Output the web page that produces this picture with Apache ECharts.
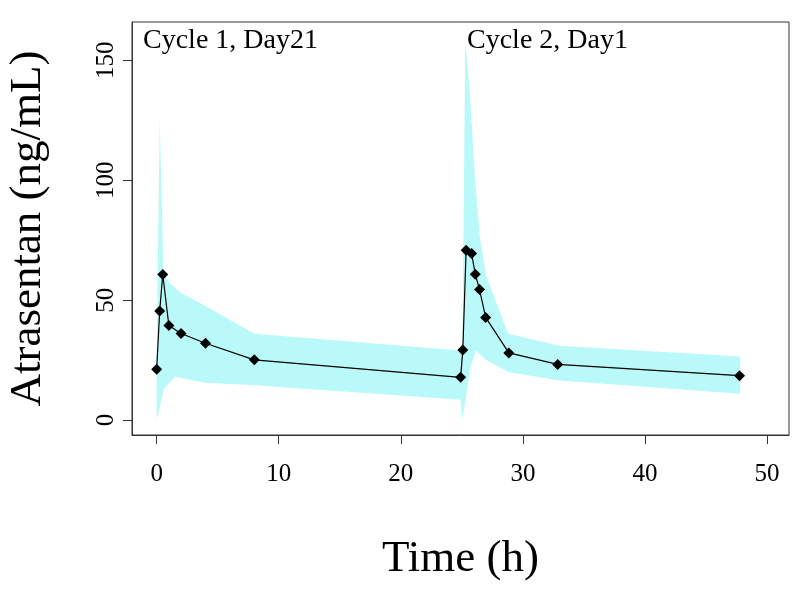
<!DOCTYPE html>
<html>
<head>
<meta charset="utf-8">
<script src="https://cdn.jsdelivr.net/npm/echarts@6/dist/echarts.min.js"></script>
<style>
html,body{margin:0;padding:0;background:#fff;}
#chart{width:800px;height:595px;}
</style>
</head>
<body>
<div id="chart"></div>
<script>
// Mean concentration profile
const timeH = [0, 0.25, 0.5, 1, 2, 4, 8, 24.9, 25.08, 25.35, 25.8, 26.1, 26.45, 26.95, 28.85, 32.85, 47.75];
const concMean = [21.2, 45.5, 60.7, 39.4, 36.1, 32.0, 25.1, 17.8, 29.2, 70.8, 69.4, 60.8, 54.4, 42.8, 28.0, 23.2, 18.5];

// Shaded band: upper bound
const upperT = [0, 0.25, 0.55, 1, 2, 4, 8, 24.9, 25.05, 25.28, 25.66, 26.07, 26.48, 27.0, 28.8, 33, 47.8];
const upperV = [25, 126, 62, 57.5, 53, 47.5, 36, 29, 31, 158, 136, 101, 76, 60, 36, 31, 26.5];
// Shaded band: lower bound
const lowerT = [0, 0.2, 0.6, 1.5, 4, 8, 24.9, 25.05, 25.3, 25.7, 26.15, 27.0, 28.8, 33, 47.8];
const lowerV = [0.5, 4, 13, 18, 15.5, 14.5, 8.4, 0.3, 8, 22, 29, 25, 20, 16.5, 11];

// Axis ticks
const xTicks = [0, 10, 20, 30, 40, 50];
const yTicks = [0, 50, 100, 150];

const annotations = [
  {text: 'Cycle 1, Day21', left: 143},
  {text: 'Cycle 2, Day1', left: 467}
];

const serif = "'Liberation Serif', 'Times New Roman', 'DejaVu Serif', serif";
const bandColor = '#BAF9FA';

const chart = echarts.init(document.getElementById('chart'), null, {renderer: 'canvas'});

const option = {
  backgroundColor: '#ffffff',
  animation: false,
  grid: {
    left: 132, right: 11, top: 22, bottom: 160, outerBoundsMode: 'none',
    show: true, borderColor: '#333', borderWidth: 1, backgroundColor: 'transparent'
  },
  xAxis: {
    type: 'value',
    min: -2.02, max: 51.8,
    name: 'Time (h)',
    nameLocation: 'middle',
    nameGap: 102,
    nameTextStyle: {fontFamily: serif, fontSize: 45, color: '#000'},
    axisLine: {show: true, onZero: false, lineStyle: {color: '#333', width: 1}},
    splitLine: {show: false},
    axisTick: {show: true, length: 9, inside: false, customValues: xTicks, lineStyle: {color: '#333', width: 1}},
    axisLabel: {customValues: xTicks, fontFamily: serif, fontSize: 25, color: '#000', margin: 27}
  },
  yAxis: {
    type: 'value',
    min: -6.25, max: 166,
    name: 'Atrasentan (ng/mL)',
    nameLocation: 'middle',
    nameRotate: 90,
    nameGap: 81,
    nameTextStyle: {fontFamily: serif, fontSize: 45, color: '#000'},
    axisLine: {show: true, onZero: false, lineStyle: {color: '#333', width: 1}},
    splitLine: {show: false},
    axisTick: {show: true, length: 9, inside: false, customValues: yTicks, lineStyle: {color: '#333', width: 1}},
    axisLabel: {customValues: yTicks, rotate: 90, fontFamily: serif, fontSize: 25, color: '#000', margin: 13}
  },
  graphic: annotations.map(a => ({
    type: 'text', left: a.left, top: 27, z: 100,
    style: {text: a.text, font: '28px ' + serif, fill: '#000'}
  })),
  series: [
    {
      type: 'custom',
      silent: true,
      z: 1,
      data: [[0, 0]],
      renderItem: function (params, api) {
        const pts = [];
        for (let i = 0; i < upperT.length; i++) pts.push(api.coord([upperT[i], upperV[i]]));
        for (let i = lowerT.length - 1; i >= 0; i--) pts.push(api.coord([lowerT[i], lowerV[i]]));
        return {type: 'polygon', shape: {points: pts}, style: {fill: bandColor, stroke: null}};
      }
    },
    {
      type: 'line',
      z: 5,
      data: timeH.map((t, i) => [t, concMean[i]]),
      symbol: 'diamond',
      symbolSize: 11,
      itemStyle: {color: '#000'},
      lineStyle: {color: '#000', width: 1.2}
    }
  ]
};
chart.setOption(option);
</script>
</body>
</html>
